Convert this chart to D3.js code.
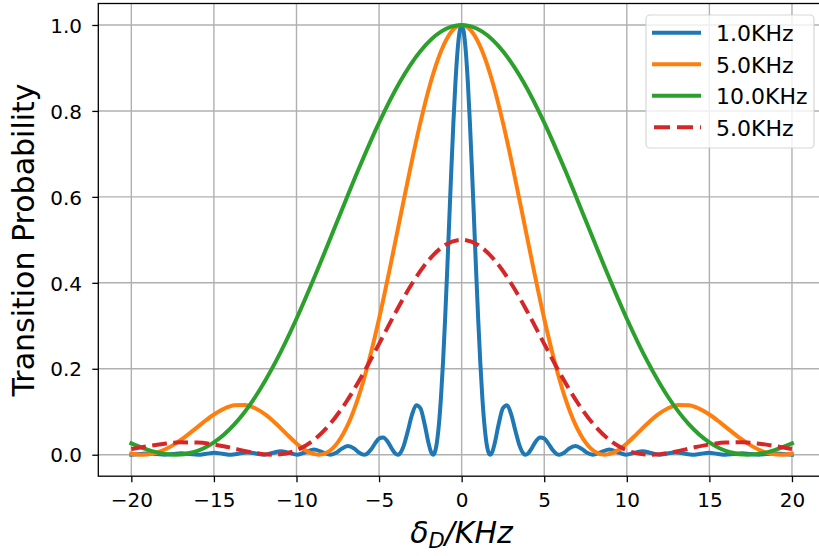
<!DOCTYPE html>
<html><head><meta charset="utf-8">
<script src="https://cdn.jsdelivr.net/npm/d3@7"></script>
<style>body{margin:0;background:#fff} svg{display:block} text{font-family:"DejaVu Sans",sans-serif}</style>
</head><body><svg id="c" width="819" height="556"></svg>
<script>
// ---- data ----
const blueX = [-20,-19.975,-19.47,-18.974,-18.47,-17.972,-17.47,-16.971,-16.47,-15.969,-15.47,-14.967,-14.47,-13.964,-13.46,-12.961,-12.46,-11.958,-11.46,-10.954,-10.45,-9.95,-9.45,-8.944,-8.44,-7.937,-7.6,-7.3,-6.9,-6.5,-6.25,-5.916,-5.75,-5.5,-5.25,-5,-4.75,-4.5,-4.25,-4,-3.873,-3.75,-3.5,-3.25,-3,-2.75,-2.5,-2.25,-2,-1.875,-1.732,-1.625,-1.5,-1.375,-1.25,-1.125,-1,-0.875,-0.75,-0.625,-0.5,-0.375,-0.25,-0.125,
  0,0.125,0.25,0.375,0.5,0.625,0.75,0.875,1,1.125,1.25,1.375,1.5,1.625,1.732,1.875,2,2.25,2.5,2.75,3,3.25,3.5,3.75,3.873,4,4.25,4.5,4.75,5,5.25,5.5,5.75,5.916,6.25,6.5,6.9,7.3,7.6,7.937,8.44,8.944,9.45,9.95,10.45,10.954,11.46,11.958,12.46,12.961,13.46,13.964,14.47,14.967,15.47,15.969,16.47,16.971,17.47,17.972,18.47,18.974,19.47,19.975,20];
const blueY = [0,0,0.0014,0.0028,0.0014,0,0.0017,0.0035,0.0018,0,0.0022,0.0044,0.0022,0,0.0029,0.0059,0.003,0,0.0041,0.0083,0.0042,0,0.0061,0.0123,0.0062,0,0.0043,0.0129,0.0205,0.0143,0.0061,0,0.0019,0.0115,0.0258,0.0375,0.0403,0.0315,0.0155,0.0022,0,0.0023,0.0217,0.0565,0.0936,0.1152,0.1082,0.0727,0.0263,0.0084,0,0.0057,0.0286,0.0712,0.1343,0.2171,0.3165,0.4283,0.5463,0.6636,0.7728,0.8668,0.939,0.9845,
  1,0.9845,0.939,0.8668,0.7728,0.6636,0.5463,0.4283,0.3165,0.2171,0.1343,0.0712,0.0286,0.0057,0,0.0084,0.0263,0.0727,0.1082,0.1152,0.0936,0.0565,0.0217,0.0023,0,0.0022,0.0155,0.0315,0.0403,0.0375,0.0258,0.0115,0.0019,0,0.0061,0.0143,0.0205,0.0129,0.0043,0,0.0062,0.0123,0.0061,0,0.0042,0.0083,0.0041,0,0.003,0.0059,0.0029,0,0.0022,0.0044,0.0022,0,0.0018,0.0035,0.0017,0,0.0014,0.0028,0.0014,0,0];

const orangeX = [-20,-19.365,-18.75,-18.125,-17.5,-16.875,-16.25,-15.625,-15,-14.375,-13.75,-13.125,-12.5,-11.875,-11.25,-10.625,-10,-9.375,-8.66,-8.125,-7.5,-6.875,-6.25,-5.625,-5,-4.375,-3.75,-3.125,-2.5,-1.875,-1.25,-0.625,
  0,0.625,1.25,1.875,2.5,3.125,3.75,4.375,5,5.625,6.25,6.875,7.5,8.125,8.66,9.375,10,10.625,11.25,11.875,12.5,13.125,13.75,14.375,15,15.625,16.25,16.875,17.5,18.125,18.75,19.365,20];
const orangeY = [0.0022,0,0.0023,0.0095,0.0217,0.0378,0.0565,0.0759,0.0936,0.1074,0.1152,0.1157,0.1082,0.0933,0.0727,0.0492,0.0263,0.0084,0,0.0057,0.0286,0.0712,0.1343,0.2171,0.3165,0.4283,0.5463,0.6636,0.7728,0.8668,0.939,0.9845,
  1,0.9845,0.939,0.8668,0.7728,0.6636,0.5463,0.4283,0.3165,0.2171,0.1343,0.0712,0.0286,0.0057,0,0.0084,0.0263,0.0492,0.0727,0.0933,0.1082,0.1157,0.1152,0.1074,0.0936,0.0759,0.0565,0.0378,0.0217,0.0095,0.0023,0,0.0022];

const greenX = [-20,-18.75,-17.32,-16.25,-15,-13.75,-12.5,-11.25,-10,-8.75,-7.5,-6.25,-5,-3.75,-2.5,-1.25,
  0,1.25,2.5,3.75,5,6.25,7.5,8.75,10,11.25,12.5,13.75,15,16.25,17.32,18.75,20];
const greenY = [0.0263,0.0084,0,0.0057,0.0286,0.0712,0.1343,0.2171,0.3165,0.4283,0.5463,0.6636,0.7728,0.8668,0.939,0.9845,
  1,0.9845,0.939,0.8668,0.7728,0.6636,0.5463,0.4283,0.3165,0.2171,0.1343,0.0712,0.0286,0.0057,0,0.0084,0.0263];

const redX = [-20,-19,-18,-17,-16,-15,-14,-13,-12,-11.43,-11,-10,-9,-8,-7,-6,-5,-4,-3,-2,-1,
  0,1,2,3,4,5,6,7,8,9,10,11,11.43,12,13,14,15,16,17,18,19,20];
const redY = [0.0131,0.0199,0.0256,0.0288,0.0283,0.0239,0.0163,0.0077,0.0012,0,0.0008,0.0102,0.0327,0.0701,0.1221,0.1863,0.258,0.3312,0.3985,0.4526,0.488,
  0.5,0.488,0.4526,0.3985,0.3312,0.258,0.1863,0.1221,0.0701,0.0327,0.0102,0.0008,0,0.0012,0.0077,0.0163,0.0239,0.0283,0.0288,0.0256,0.0199,0.0131];

const seriesLabels = ["1.0KHz", "5.0KHz", "10.0KHz", "5.0KHz"];
const xTicks = [-20, -15, -10, -5, 0, 5, 10, 15, 20];
const yTicks = [0, 0.2, 0.4, 0.6, 0.8, 1.0];

// ---- drawing ----
(function () {
const W = 819, H = 556;
const pL = 98.3, pR = 825, pT = 3.5, pB = 476.2;
const svg = d3.select("#c");
svg.append("rect").attr("width", W).attr("height", H).attr("fill", "#fff");

const x = d3.scaleLinear().domain([-22, 22]).range([pL, pR]);
const y = d3.scaleLinear().domain([-0.05, 1.05]).range([pB, pT]);

// grid
const grid = svg.append("g");
grid.selectAll("line.v").data(xTicks).join("line").attr("class", "v")
  .attr("x1", d => x(d)).attr("x2", d => x(d)).attr("y1", pT).attr("y2", pB)
  .attr("stroke", "#b0b0b0").attr("stroke-width", 1.4);
grid.selectAll("line.h").data(yTicks).join("line").attr("class", "h")
  .attr("y1", d => y(d)).attr("y2", d => y(d)).attr("x1", pL).attr("x2", pR)
  .attr("stroke", "#b0b0b0").attr("stroke-width", 1.4);

// series
const series = [
  {xs: blueX, ys: blueY, color: "#1f77b4", dash: null},
  {xs: orangeX, ys: orangeY, color: "#ff7f0e", dash: null},
  {xs: greenX, ys: greenY, color: "#2ca02c", dash: null},
  {xs: redX, ys: redY, color: "#d62728", dash: "14.8,6.4"}
];
const line = d3.line().x(d => x(d[0])).y(d => y(d[1])).curve(d3.curveMonotoneX);
series.forEach(s => {
  const pts = s.xs.map((v, i) => [v, s.ys[i]]);
  const p = svg.append("path").datum(pts).attr("d", line)
    .attr("fill", "none").attr("stroke", s.color).attr("stroke-width", 4)
    .attr("stroke-linejoin", "round");
  if (s.dash) p.attr("stroke-dasharray", s.dash).attr("stroke-linecap", "butt");
  else p.attr("stroke-linecap", "square");
});

// axes
const xAxis = svg.append("g").attr("transform", `translate(0,${pB})`)
  .call(d3.axisBottom(x).tickValues(xTicks).tickSize(6).tickFormat(d3.format("d")));
xAxis.select(".domain").remove();
xAxis.selectAll(".tick line").attr("stroke", "#000").attr("stroke-width", 1.3);
xAxis.selectAll(".tick text").attr("dy", null).attr("y", 507.5 - pB)
  .attr("font-size", 20).attr("fill", "#000").attr("font-family", "DejaVu Sans");

const yAxis = svg.append("g").attr("transform", `translate(${pL},0)`)
  .call(d3.axisLeft(y).tickValues(yTicks).tickSize(6).tickFormat(d3.format(".1f")));
yAxis.select(".domain").remove();
yAxis.selectAll(".tick line").attr("stroke", "#000").attr("stroke-width", 1.3);
yAxis.selectAll(".tick text").attr("x", -16.3).attr("dy", "0.36em")
  .attr("font-size", 20).attr("fill", "#000").attr("font-family", "DejaVu Sans");

// spines
svg.append("rect").attr("x", pL).attr("y", pT).attr("width", pR - pL).attr("height", pB - pT)
  .attr("fill", "none").attr("stroke", "#000").attr("stroke-width", 1.3);

// axis labels
const xl = svg.append("text").attr("x", 461.5).attr("y", 543).attr("text-anchor", "middle")
  .attr("font-size", 30).attr("font-style", "italic").attr("fill", "#000");
xl.append("tspan").text("δ");
xl.append("tspan").attr("font-size", 21).attr("dy", 5).text("D");
xl.append("tspan").attr("dy", -5).text("/KHz");

svg.append("text").attr("transform", "translate(34,240) rotate(-90)").attr("text-anchor", "middle")
  .attr("font-size", 30).attr("fill", "#000").text("Transition Probability");

// legend
const lg = svg.append("g");
lg.append("rect").attr("x", 646).attr("y", 15).attr("width", 168).attr("height", 133).attr("rx", 4)
  .attr("fill", "#fff").attr("fill-opacity", 0.8).attr("stroke", "#cccccc").attr("stroke-opacity", 0.8).attr("stroke-width", 1.2);
const rowY = [32.7, 64.2, 95.8, 127.3];
series.forEach((s, i) => {
  const l = lg.append("line").attr("x1", 652).attr("x2", 701).attr("y1", rowY[i]).attr("y2", rowY[i])
    .attr("stroke", s.color).attr("stroke-width", 4);
  if (s.dash) l.attr("stroke-dasharray", "16,7").attr("x1", 654).attr("x2", 701);
  lg.append("text").attr("x", 716).attr("y", rowY[i] + 8.3).attr("font-size", 22).attr("fill", "#000")
    .text(seriesLabels[i]);
});
})();
</script></body></html>
